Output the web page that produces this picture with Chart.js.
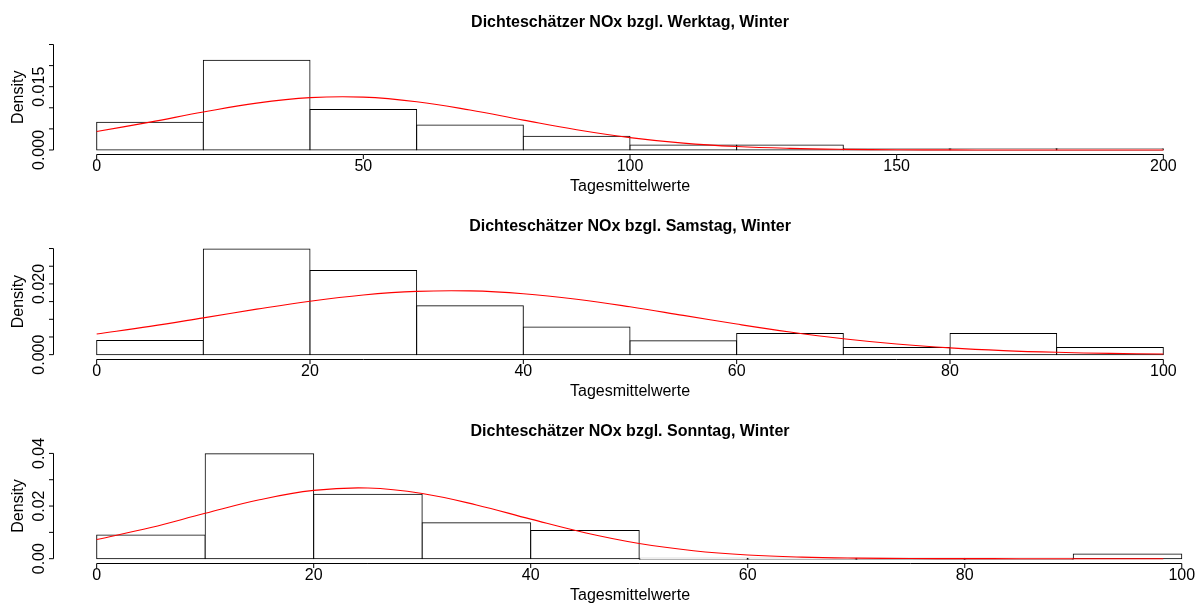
<!DOCTYPE html>
<html>
<head>
<meta charset="utf-8">
<title>Dichteschätzer NOx, Winter</title>
<script src="https://cdn.jsdelivr.net/npm/chart.js@4/dist/chart.umd.min.js"></script>
<style>
  html, body { margin: 0; padding: 0; overflow: hidden; background: #fff; width: 1200px; height: 603px; }
  canvas { position: absolute; left: 0; top: 0; }
</style>
</head>
<body>
<canvas id="werktag" width="1206" height="603"></canvas>
<canvas id="samstag" width="1206" height="603"></canvas>
<canvas id="sonntag" width="1206" height="603"></canvas>
<script>
// ---- Werktag (weekdays) ----
const werktagTitle = 'Dichteschätzer NOx bzgl. Werktag, Winter';
const werktagBreaks = [0, 20, 40, 60, 80, 100, 120, 140, 160, 180, 200];
const werktagDensity = [0.00656, 0.02126, 0.00960, 0.00590, 0.00326, 0.00120, 0.00120, 0.00030, 0.00030, 0.00030];
const werktagCurveX = [0, 10, 20, 30, 40, 50, 60, 70, 80, 90, 100, 110, 120, 130, 140, 150, 160, 170, 180, 190, 200];
const werktagCurveY = [0.00438, 0.00660, 0.00900, 0.01111, 0.01240, 0.01253, 0.01145, 0.00947, 0.00708, 0.00479, 0.00293, 0.00162, 0.00081, 0.00037, 0.00015, 0.00006, 0.00002, 0.00001, 0, 0, 0];
const werktagXTicks = [0, 50, 100, 150, 200];
const werktagYTicks = [0, 0.005, 0.010, 0.015, 0.020, 0.025];
const werktagYLabels = ['0.000', '', '', '0.015', '', ''];
const werktagXLim = [0, 200];
const werktagYLim = [0, 0.025];

// ---- Samstag (Saturdays) ----
const samstagTitle = 'Dichteschätzer NOx bzgl. Samstag, Winter';
const samstagBreaks = [0, 10, 20, 30, 40, 50, 60, 70, 80, 90, 100];
const samstagDensity = [0.0040, 0.0299, 0.0238, 0.0138, 0.0078, 0.0039, 0.0060, 0.0020, 0.0060, 0.0020];
const samstagCurveX = [0, 5, 10, 15, 20, 25, 30, 35, 40, 45, 50, 55, 60, 65, 70, 75, 80, 85, 90, 95, 100];
const samstagCurveY = [0.00583, 0.00799, 0.01041, 0.01287, 0.01512, 0.01687, 0.01789, 0.01802, 0.01724, 0.01567, 0.01353, 0.01110, 0.00865, 0.00640, 0.00450, 0.00301, 0.00191, 0.00115, 0.00066, 0.00036, 0.00019];
const samstagXTicks = [0, 20, 40, 60, 80, 100];
const samstagYTicks = [0, 0.005, 0.010, 0.015, 0.020, 0.025, 0.030];
const samstagYLabels = ['0.000', '', '', '', '0.020', '', ''];
const samstagXLim = [0, 100];
const samstagYLim = [0, 0.030];

// ---- Sonntag (Sundays) ----
const sonntagTitle = 'Dichteschätzer NOx bzgl. Sonntag, Winter';
const sonntagBreaks = [0, 10, 20, 30, 40, 50, 60, 70, 80, 90, 100];
const sonntagDensity = [0.0090, 0.0399, 0.0245, 0.0137, 0.0107, 0, 0, 0, 0, 0.0018];
const sonntagCurveX = [0, 5, 10, 15, 20, 25, 30, 35, 40, 45, 50, 55, 60, 65, 70, 75, 80, 85, 90, 95, 98.3];
const sonntagCurveY = [0.00726, 0.01184, 0.01723, 0.02238, 0.02594, 0.02684, 0.02478, 0.02043, 0.01503, 0.00987, 0.00578, 0.00303, 0.00141, 0.00059, 0.00022, 0.00007, 0.00002, 0, 0, 0, 0];
const sonntagXTicks = [0, 20, 40, 60, 80, 100];
const sonntagYTicks = [0, 0.01, 0.02, 0.03, 0.04];
const sonntagYLabels = ['0.00', '', '0.02', '', '0.04'];
const sonntagXLim = [0, 98.3];
const sonntagYLim = [0, 0.04];

const xTitle = 'Tagesmittelwerte';
const yTitle = 'Density';

const FONT = '"Liberation Sans", Arial, Helvetica, sans-serif';

// R-style axes: lines span first to last tick, short outward ticks, rotated y labels
const rAxes = {
  id: 'rAxes',
  afterDatasetsDraw(chart, args, o) {
    const { ctx, chartArea: a, scales: { x, y } } = chart;
    ctx.save();
    ctx.strokeStyle = '#000';
    ctx.fillStyle = '#000';
    ctx.lineWidth = 1;

    // x axis
    const ay = Math.round(a.bottom) + 0.5;
    const xs = o.xTicks.map(v => x.getPixelForValue(v));
    ctx.beginPath();
    ctx.moveTo(xs[0], ay);
    ctx.lineTo(xs[xs.length - 1], ay);
    xs.forEach(px => { ctx.moveTo(px, ay); ctx.lineTo(px, ay + 4.5); });
    ctx.stroke();
    ctx.font = '16px ' + FONT;
    ctx.textAlign = 'center';
    ctx.textBaseline = 'alphabetic';
    o.xTicks.forEach((v, i) => ctx.fillText(String(v), xs[i], a.bottom + 17));
    ctx.fillText(o.xTitle, (a.left + a.right) / 2, a.bottom + 37);

    // y axis
    const ax = Math.round(a.left) - 0.5;
    const ys = o.yTicks.map(v => y.getPixelForValue(v));
    ctx.beginPath();
    ctx.moveTo(ax, ys[0]);
    ctx.lineTo(ax, ys[ys.length - 1]);
    ys.forEach(py => { ctx.moveTo(ax, py); ctx.lineTo(ax - 4.5, py); });
    ctx.stroke();
    o.yLabels.forEach((t, i) => {
      if (!t) return;
      ctx.save();
      ctx.translate(a.left - 10, ys[i]);
      ctx.rotate(-Math.PI / 2);
      ctx.fillText(t, 0, 0);
      ctx.restore();
    });
    ctx.save();
    ctx.translate(a.left - 31, (a.top + a.bottom) / 2);
    ctx.rotate(-Math.PI / 2);
    ctx.fillText(o.yTitle, 0, 0);
    ctx.restore();

    // main title
    ctx.font = 'bold 16px ' + FONT;
    ctx.fillText(o.title, (a.left + a.right) / 2, a.top - 13.6);
    ctx.restore();
  }
};

// R extends each axis range by 4% on both sides
function usr(lim) {
  const d = (lim[1] - lim[0]) * 0.04;
  return [lim[0] - d, lim[1] + d];
}

function histPanel(id, p) {
  const bins = p.density.map((d, i) => ({ x: (p.breaks[i] + p.breaks[i + 1]) / 2, y: d }));
  const curve = p.curveX.map((v, i) => ({ x: v, y: p.curveY[i] }));
  const xr = usr(p.xlim);
  const yr = usr(p.ylim);
  return new Chart(document.getElementById(id), {
    type: 'bar',
    data: {
      datasets: [
        {
          type: 'line',
          data: curve,
          borderColor: '#ff0000',
          borderWidth: 1.1,
          pointRadius: 0,
          fill: false,
          tension: 0.4,
          order: 0
        },
        {
          type: 'bar',
          data: bins,
          backgroundColor: '#ffffff',
          borderColor: '#000000',
          borderWidth: 1,
          borderSkipped: false,
          inflateAmount: 0.5,
          minBarLength: 1,
          barPercentage: 1,
          categoryPercentage: 1,
          order: 1
        }
      ]
    },
    options: {
      responsive: false,
      animation: false,
      devicePixelRatio: 1,
      events: [],
      layout: { padding: { left: 54, right: 0, top: p.top, bottom: 603 - p.bottom } },
      scales: {
        x: {
          type: 'linear', display: false, offset: false, bounds: 'data',
          min: xr[0], max: xr[1],
          afterBuildTicks: s => { s.ticks = p.breaks.map(v => ({ value: v })); }
        },
        y: { type: 'linear', display: false, min: yr[0], max: yr[1] }
      },
      plugins: {
        legend: { display: false },
        tooltip: { enabled: false },
        title: { display: false },
        rAxes: {
          title: p.title, xTitle: xTitle, yTitle: yTitle,
          xTicks: p.xTicks, yTicks: p.yTicks, yLabels: p.yLabels
        }
      }
    },
    plugins: [rAxes]
  });
}

histPanel('werktag', {
  title: werktagTitle, breaks: werktagBreaks, density: werktagDensity,
  curveX: werktagCurveX, curveY: werktagCurveY,
  xTicks: werktagXTicks, yTicks: werktagYTicks, yLabels: werktagYLabels,
  xlim: werktagXLim, ylim: werktagYLim, top: 40.3, bottom: 154.2
});
histPanel('samstag', {
  title: samstagTitle, breaks: samstagBreaks, density: samstagDensity,
  curveX: samstagCurveX, curveY: samstagCurveY,
  xTicks: samstagXTicks, yTicks: samstagYTicks, yLabels: samstagYLabels,
  xlim: samstagXLim, ylim: samstagYLim, top: 244.3, bottom: 358.9
});
histPanel('sonntag', {
  title: sonntagTitle, breaks: sonntagBreaks, density: sonntagDensity,
  curveX: sonntagCurveX, curveY: sonntagCurveY,
  xTicks: sonntagXTicks, yTicks: sonntagYTicks, yLabels: sonntagYLabels,
  xlim: sonntagXLim, ylim: sonntagYLim, top: 449.2, bottom: 562.9
});
</script>
</body>
</html>
